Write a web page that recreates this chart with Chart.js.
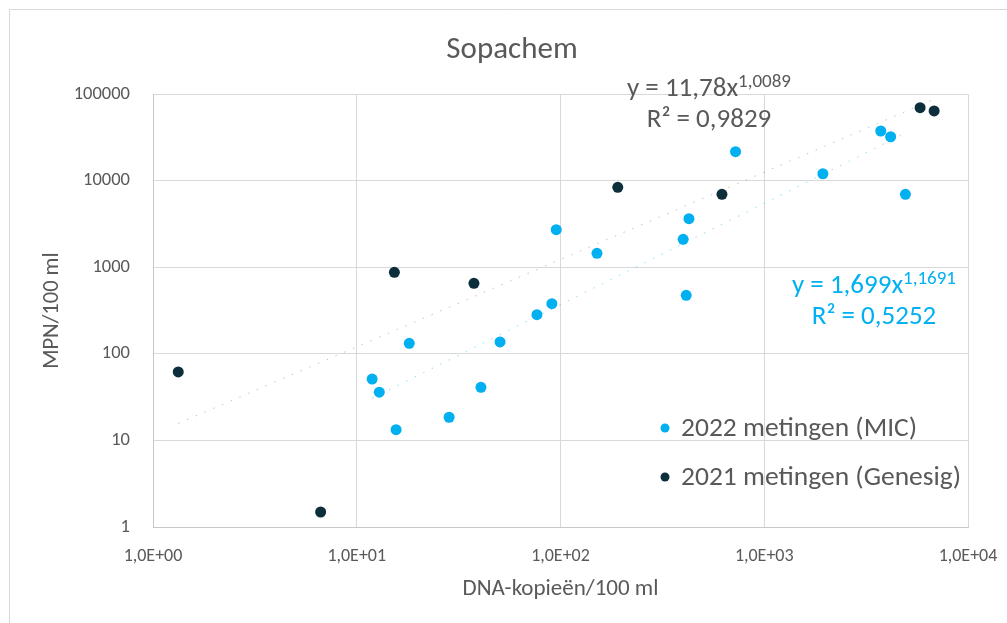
<!DOCTYPE html>
<html><head><meta charset="utf-8">
<script src="https://cdn.jsdelivr.net/npm/chart.js@4"></script>
<style>html,body{margin:0;padding:0;background:#fff;overflow:hidden}canvas{display:block}</style>
</head><body><canvas id="c" width="1007" height="623"></canvas>
<script>
const chartTitle = 'Sopachem';
const xAxisTitle = 'DNA-kopieën/100 ml';
const yAxisTitle = 'MPN/100 ml';
const seriesLabels = ['2022 metingen (MIC)', '2021 metingen (Genesig)'];
const x2022 = [11.9, 12.9, 15.6, 18.1, 28.4, 40.7, 50.5, 76.6, 90.7, 95.3, 151, 400, 414, 427, 723, 1940, 3730, 4170, 4930];
const y2022 = [51, 36, 13.3, 132, 18.5, 41, 137, 283, 379, 2710, 1446, 2100, 473, 3630, 21600, 12000, 37400, 32100, 6950];
const x2021 = [1.33, 6.65, 15.3, 37.6, 191, 620, 5820, 6820];
const y2021 = [61.7, 1.49, 874, 652, 8370, 6950, 69500, 63700];
const xTicks = [1, 10, 100, 1000, 10000];
const yTicks = [1, 10, 100, 1000, 10000, 100000];
const trend2022 = [1.699, 1.1691];   // y = a * x^b
const trend2021 = [11.78, 1.0089];
const r2Values = [0.5252, 0.9829];

const FONT = 'Carlito, Calibri, Lato, sans-serif';
const TXT = '#595959';
const BLUE = '#00B0F0';
const DARK = '#0D2F3C';

const pts = (xs, ys) => xs.map((x, i) => ({x, y: ys[i]}));
const trendPts = (xs, coef) => {
  const lo = Math.min(...xs), hi = Math.max(...xs);
  return [lo, hi].map(x => ({x, y: coef[0] * Math.pow(x, coef[1])}));
};
const fmt = v => String(v).replace('.', ',');
const sci = v => { const e = Math.round(Math.log10(v)); return '1,0E+' + (e < 10 ? '0' : '') + e; };

const framePlugin = {
  id: 'frame',
  beforeDraw(chart) {
    const ctx = chart.ctx;
    ctx.save();
    ctx.fillStyle = '#fff';
    ctx.fillRect(0, 0, chart.width, chart.height);
    ctx.strokeStyle = '#d9d9d9';
    ctx.lineWidth = 1;
    ctx.beginPath();
    ctx.moveTo(9.5, chart.height); ctx.lineTo(9.5, 9.5); ctx.lineTo(chart.width, 9.5);
    ctx.stroke();
    ctx.fillStyle = TXT;
    ctx.font = '31px ' + FONT;
    ctx.textAlign = 'center';
    ctx.textBaseline = 'alphabetic';
    ctx.fillText(chartTitle, 512, 57.5);
    ctx.restore();
  }
};

function drawEq(ctx, cx, base, coef, r2, color) {
  const main = 'y = ' + fmt(coef[0]) + 'x';
  const sup = fmt(coef[1]);
  ctx.font = '27px ' + FONT; const w1 = ctx.measureText(main).width;
  ctx.font = '19px ' + FONT; const w2 = ctx.measureText(sup).width;
  const x0 = cx - (w1 + w2) / 2;
  ctx.fillStyle = color; ctx.textAlign = 'left'; ctx.textBaseline = 'alphabetic';
  ctx.font = '27px ' + FONT; ctx.fillText(main, x0, base);
  ctx.font = '19px ' + FONT; ctx.fillText(sup, x0 + w1, base - 9);
  ctx.font = '27px ' + FONT; ctx.textAlign = 'center';
  ctx.fillText('R\u00B2 = ' + fmt(r2), cx, base + 31);
}

const labelsPlugin = {
  id: 'eqLabels',
  afterDraw(chart) {
    const ctx = chart.ctx;
    ctx.save();
    drawEq(ctx, 709, 96, trend2021, r2Values[1], TXT);
    drawEq(ctx, 874, 293, trend2022, r2Values[0], BLUE);
    const items = [[seriesLabels[0], BLUE], [seriesLabels[1], DARK]];
    items.forEach((it, i) => {
      const y = 428 + i * 49;
      ctx.fillStyle = it[1];
      ctx.beginPath(); ctx.arc(665, y, 4.5, 0, Math.PI * 2); ctx.fill();
      ctx.fillStyle = TXT; ctx.font = '27.5px ' + FONT;
      ctx.textAlign = 'left'; ctx.textBaseline = 'middle';
      ctx.fillText(it[0], 681, y + 1);
    });
    ctx.restore();
  }
};

new Chart(document.getElementById('c'), {
  type: 'scatter',
  data: {
    datasets: [
      {label: seriesLabels[0], data: pts(x2022, y2022), backgroundColor: BLUE, borderColor: BLUE, pointRadius: 5.5, borderWidth: 0, order: 1},
      {label: seriesLabels[1], data: pts(x2021, y2021), backgroundColor: DARK, borderColor: DARK, pointRadius: 5.5, borderWidth: 0, order: 1},
      {label: 'trend2022', data: trendPts(x2022, trend2022), showLine: true, pointRadius: 0, borderColor: 'rgba(0,176,240,0.45)', borderWidth: 1, borderDash: [1.5, 8], order: 2},
      {label: 'trend2021', data: trendPts(x2021, trend2021), showLine: true, pointRadius: 0, borderColor: 'rgba(100,100,100,0.4)', borderWidth: 1, borderDash: [1.5, 8], order: 2}
    ]
  },
  options: {
    responsive: false,
    animation: false,
    layout: {padding: {top: 94, left: 0, right: 39, bottom: 0}},
    plugins: {
      legend: {display: false},
      tooltip: {enabled: false},
      title: {display: false}
    },
    scales: {
      x: {
        type: 'logarithmic', position: 'bottom', min: 1, max: 10000,
        afterBuildTicks: s => { s.ticks = xTicks.map(v => ({value: v})); },
        afterFit: s => { s.height = 96; s.paddingRight = 30; s.paddingLeft = 30; },
        ticks: {callback: v => sci(v), color: TXT, font: {family: FONT, size: 18}, padding: 19, maxRotation: 0, autoSkip: false},
        grid: {color: '#d9d9d9', drawTicks: false},
        border: {color: '#c8c8c8'},
        title: {display: true, text: xAxisTitle, color: TXT, font: {family: FONT, size: 23}, padding: {top: 0, bottom: 20}}
      },
      y: {
        type: 'logarithmic', position: 'left', min: 1, max: 100000,
        afterBuildTicks: s => { s.ticks = yTicks.map(v => ({value: v})); },
        afterFit: s => { s.width = 153; s.paddingTop = 0; s.paddingBottom = 0; },
        ticks: {callback: v => String(v), color: TXT, font: {family: FONT, size: 18.5}, padding: 23, autoSkip: false},
        grid: {color: '#d9d9d9', drawTicks: false},
        border: {color: '#c8c8c8'},
        title: {display: true, text: yAxisTitle, color: TXT, font: {family: FONT, size: 22.5}, padding: {top: 38.5, bottom: 0}}
      }
    }
  },
  plugins: [framePlugin, labelsPlugin]
});
</script></body></html>
